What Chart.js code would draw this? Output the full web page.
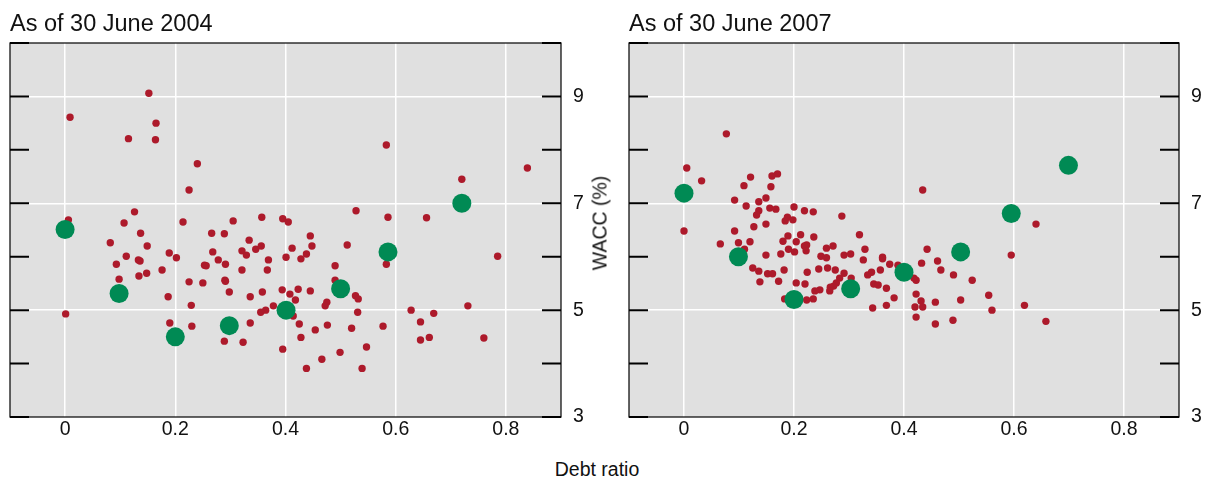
<!DOCTYPE html>
<html>
<head>
<meta charset="utf-8">
<script src="https://cdn.jsdelivr.net/npm/chart.js@4.4.0/dist/chart.umd.min.js"></script>
<style>
  body { margin: 0; background: #fff; font-family: "Liberation Sans", Arial, sans-serif; }
  #wrap { position: relative; width: 1205px; height: 477px; overflow: hidden; }
  .box { position: absolute; top: 0; height: 450px; }
  .title { position: absolute; top: 9.5px; font-size: 23.5px; color: #111; white-space: nowrap; }
  .axt { position: absolute; font-size: 19.5px; color: #111; white-space: nowrap; }
</style>
</head>
<body>
<div id="wrap">
  <div class="box" style="left:0;width:600px"><canvas id="c2004"></canvas></div>
  <div class="box" style="left:619px;width:586px"><canvas id="c2007"></canvas></div>
  <div class="title" style="left:10px">As of 30 June 2004</div>
  <div class="title" style="left:629px">As of 30 June 2007</div>
  <div class="axt" id="ytitle" style="left:600px;top:223px;transform:translate(-50%,-50%) rotate(-90deg)">WACC (%)</div>
  <div class="axt" style="left:597px;top:469px;transform:translate(-50%,-50%)">Debt ratio</div>
</div>
<script>
// x tick positions / labels and y tick positions
const xTicks = [0, 0.2, 0.4, 0.6, 0.8];
const xTickLabels = ['0', '0.2', '0.4', '0.6', '0.8'];
const yTicks = [3, 4, 5, 6, 7, 8, 9, 10];
const yLabelled = [3, 5, 7, 9];

// 2004: individual firms
const x2004 = [0.152, 0.009, 0.165, 0.115, 0.164, 0.583, 0.240, 0.839, 0.720, 0.225,
  0.528, 0.126, 0.006, 0.107, 0.214, 0.305, 0.357, 0.395, 0.405, 0.586,
  0.656, 0.137, 0.266, 0.289, 0.445, 0.334, 0.082, 0.149, 0.448, 0.512,
  0.412, 0.346, 0.356, 0.268, 0.321, 0.189, 0.438, 0.111, 0.329, 0.785,
  0.202, 0.401, 0.278, 0.133, 0.136, 0.369, 0.428, 0.093, 0.291, 0.253,
  0.256, 0.583, 0.490, 0.176, 0.321, 0.367, 0.148, 0.134, 0.098, 0.290,
  0.291, 0.490, 0.225, 0.250, 0.423, 0.394, 0.445, 0.298, 0.358, 0.408,
  0.336, 0.187, 0.527, 0.532, 0.418, 0.475, 0.472, 0.229, 0.378, 0.731,
  0.628, 0.531, 0.364, 0.355, 0.669, 0.001, 0.414, 0.645, 0.190, 0.336,
  0.425, 0.476, 0.230, 0.577, 0.520, 0.454, 0.428, 0.661, 0.760, 0.645,
  0.289, 0.323, 0.547, 0.395, 0.499, 0.466, 0.438, 0.539];
const y2004 = [9.06, 8.61, 8.50, 8.21, 8.19, 8.09, 7.74, 7.66, 7.45, 7.25,
  6.86, 6.84, 6.69, 6.63, 6.65, 6.67, 6.74, 6.71, 6.65, 6.74,
  6.73, 6.44, 6.44, 6.43, 6.39, 6.31, 6.26, 6.20, 6.20, 6.22,
  6.16, 6.14, 6.20, 6.09, 6.11, 6.07, 6.05, 6.01, 6.03, 6.01,
  5.98, 5.99, 5.94, 5.94, 5.92, 5.94, 5.96, 5.86, 5.86, 5.84,
  5.83, 5.86, 5.83, 5.75, 5.75, 5.75, 5.69, 5.64, 5.58, 5.56,
  5.54, 5.56, 5.53, 5.51, 5.39, 5.38, 5.36, 5.34, 5.34, 5.30,
  5.25, 5.25, 5.27, 5.21, 5.19, 5.15, 5.08, 5.09, 5.08, 5.08,
  5.00, 4.96, 5.00, 4.96, 4.94, 4.93, 4.89, 4.78, 4.76, 4.76,
  4.74, 4.72, 4.70, 4.70, 4.66, 4.63, 4.49, 4.49, 4.48, 4.44,
  4.42, 4.40, 4.31, 4.27, 4.21, 4.08, 3.91, 3.91];
// 2004: averages
const x2004Avg = [0, 0.098, 0.2, 0.298, 0.401, 0.5, 0.586, 0.72];
const y2004Avg = [6.51, 5.31, 4.50, 4.71, 5.00, 5.40, 6.09, 7.00];

// 2007: individual firms
const x2007 = [0.077, 0.005, 0.032, 0.121, 0.170, 0.160, 0.109, 0.158, 0.434, 0.149,
  0.092, 0.136, 0.113, 0.156, 0.167, 0.200, 0.219, 0.235, 0.136, 0.132,
  0.287, 0.188, 0.184, 0.198, 0.640, 0.149, 0.127, 0.000, 0.092, 0.189,
  0.212, 0.236, 0.319, 0.180, 0.204, 0.120, 0.099, 0.066, 0.223, 0.219,
  0.271, 0.259, 0.110, 0.329, 0.442, 0.190, 0.222, 0.201, 0.149, 0.176,
  0.249, 0.259, 0.291, 0.303, 0.361, 0.361, 0.595, 0.326, 0.461, 0.432,
  0.374, 0.389, 0.125, 0.182, 0.245, 0.261, 0.136, 0.275, 0.357, 0.467,
  0.224, 0.341, 0.291, 0.152, 0.161, 0.334, 0.490, 0.283, 0.304, 0.418,
  0.422, 0.524, 0.172, 0.138, 0.277, 0.204, 0.220, 0.345, 0.353, 0.272,
  0.266, 0.368, 0.247, 0.238, 0.265, 0.422, 0.554, 0.382, 0.183, 0.223,
  0.235, 0.503, 0.431, 0.457, 0.619, 0.368, 0.420, 0.434, 0.343, 0.560,
  0.422, 0.489, 0.658, 0.457];
const y2007 = [8.30, 7.66, 7.42, 7.49, 7.55, 7.51, 7.33, 7.31, 7.25, 7.10,
  7.06, 7.03, 6.95, 6.91, 6.89, 6.93, 6.86, 6.84, 6.86, 6.78,
  6.76, 6.74, 6.67, 6.69, 6.61, 6.61, 6.56, 6.48, 6.48, 6.39,
  6.41, 6.37, 6.41, 6.29, 6.28, 6.28, 6.26, 6.24, 6.22, 6.20,
  6.20, 6.16, 6.14, 6.14, 6.14, 6.14, 6.11, 6.09, 6.03, 6.05,
  6.01, 5.98, 6.03, 6.05, 5.99, 5.96, 6.03, 5.94, 5.92, 5.88,
  5.86, 5.84, 5.79, 5.75, 5.77, 5.79, 5.73, 5.75, 5.75, 5.75,
  5.71, 5.71, 5.69, 5.68, 5.68, 5.66, 5.66, 5.60, 5.60, 5.60,
  5.56, 5.56, 5.54, 5.53, 5.51, 5.51, 5.49, 5.49, 5.47, 5.45,
  5.43, 5.41, 5.38, 5.36, 5.36, 5.30, 5.28, 5.23, 5.21, 5.19,
  5.21, 5.19, 5.17, 5.15, 5.09, 5.09, 5.06, 5.06, 5.04, 5.00,
  4.87, 4.81, 4.79, 4.74];
// 2007: averages
const x2007Avg = [0, 0.099, 0.2, 0.303, 0.4, 0.503, 0.595, 0.699];
const y2007Avg = [7.19, 6.00, 5.20, 5.40, 5.71, 6.09, 6.81, 7.71];

const RED = '#ad1a2b';
const GREEN = '#008a54';
const FONT = "'Liberation Sans', Arial, sans-serif";

function pts(xs, ys) {
  return xs.map((x, i) => ({ x: x, y: ys[i] }));
}

// gray panel behind, black frame and inward ticks on top
const panelPlugin = {
  id: 'panel',
  beforeDraw(chart) {
    const a = chart.chartArea, c = chart.ctx;
    c.save();
    c.fillStyle = '#e0e0e0';
    c.fillRect(a.left, a.top, a.right - a.left, a.bottom - a.top);
    c.restore();
  },
  afterDraw(chart) {
    const a = chart.chartArea, c = chart.ctx, ys = chart.scales.y;
    c.save();
    c.strokeStyle = '#000';
    c.lineWidth = 1.2;
    c.strokeRect(a.left, a.top, a.right - a.left, a.bottom - a.top);
    c.lineWidth = 2;
    yTicks.forEach(v => {
      const py = ys.getPixelForValue(v);
      c.beginPath();
      c.moveTo(a.left, py); c.lineTo(a.left + 19, py);
      c.moveTo(a.right - 19, py); c.lineTo(a.right, py);
      c.stroke();
    });
    c.restore();
  }
};

function makeChart(id, xs, ys, xa, ya, padLeft, yWidth) {
  return new Chart(document.getElementById(id), {
    type: 'scatter',
    data: {
      datasets: [
        { data: pts(xa, ya), backgroundColor: GREEN, borderWidth: 0, pointRadius: 9.5, order: 0 },
        { data: pts(xs, ys), backgroundColor: RED, borderWidth: 0, pointRadius: 3.7, order: 1 }
      ]
    },
    options: {
      responsive: true,
      maintainAspectRatio: false,
      animation: false,
      layout: { padding: { left: padLeft, top: 43, right: 0, bottom: 0 } },
      plugins: { legend: { display: false }, tooltip: { enabled: false } },
      scales: {
        x: {
          type: 'linear', min: -0.1, max: 0.9,
          afterBuildTicks: s => { s.ticks = xTicks.map(v => ({ value: v })); },
          afterFit: s => { s.height = 33; },
          grid: { color: '#ffffff', lineWidth: 1.5, drawTicks: false },
          border: { display: false },
          ticks: {
            padding: 1, color: '#111', font: { family: FONT, size: 19.5 },
            maxRotation: 0,
            callback: v => xTickLabels[xTicks.indexOf(v)]
          }
        },
        y: {
          type: 'linear', position: 'right', min: 3, max: 10,
          afterBuildTicks: s => { s.ticks = yTicks.slice(0, 7).map(v => ({ value: v })); },
          afterFit: s => { s.width = yWidth; },
          grid: {
            lineWidth: 1.5, drawTicks: false,
            color: c => yLabelled.indexOf(c.tick.value) > 0 ? '#ffffff' : 'rgba(0,0,0,0)'
          },
          border: { display: false },
          ticks: {
            padding: 12, color: '#111', font: { family: FONT, size: 19.5 },
            callback: v => yLabelled.indexOf(v) >= 0 ? String(v) : ''
          }
        }
      }
    },
    plugins: [panelPlugin]
  });
}

makeChart('c2004', x2004, y2004, x2004Avg, y2004Avg, 10, 39);
makeChart('c2007', x2007, y2007, x2007Avg, y2007Avg, 10, 26);
</script>
</body>
</html>
